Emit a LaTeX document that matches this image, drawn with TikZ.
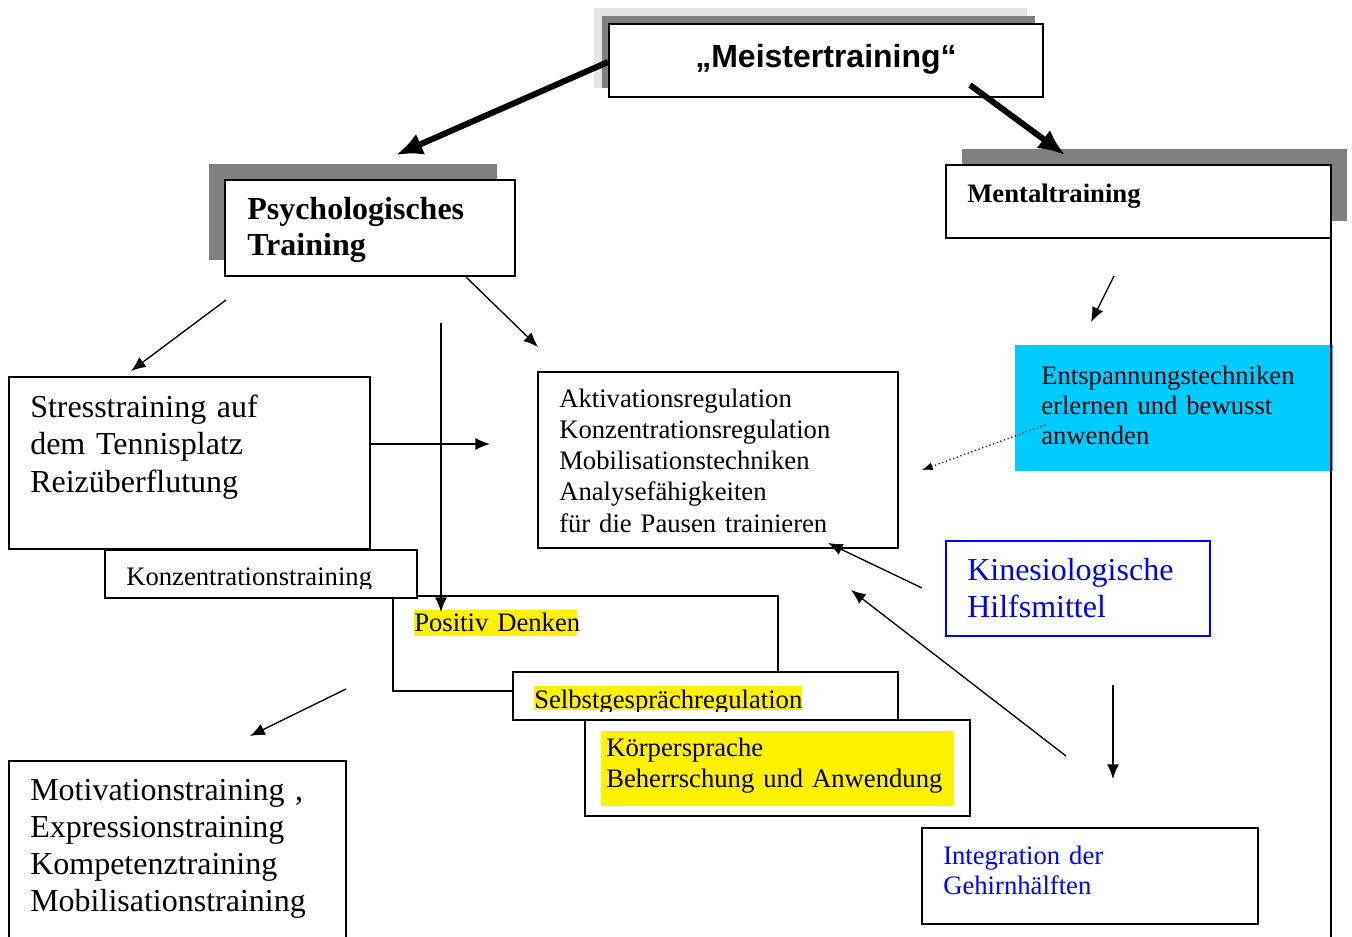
\documentclass[tikz,border=0pt]{standalone}
\usepackage{fontspec}
\setmainfont{Liberation Serif}
\newfontfamily\arialfont{Liberation Sans}
\usetikzlibrary{positioning,arrows.meta}
\definecolor{skyblue}{RGB}{0,204,255}

\begin{document}
\begin{tikzpicture}[x=0.75pt,y=-0.75pt,>={Latex[length=11pt,width=9pt]},
	box/.style 2 args={draw,fill=white,line width=1.3pt,anchor=north west,
		inner sep=0pt,outer sep=0pt,minimum width=#1*0.75pt,minimum height=#2*0.75pt},
	txt/.style={anchor=base west,inner sep=0pt,align=left,text width=330pt},
	big/.style={font=\fontsize{24}{27.75}\selectfont},
	mid/.style={font=\fontsize{20}{23.25}\selectfont},
	arr/.style={->,line width=1pt},
	bigarr/.style={-{Latex[length=20pt,width=17pt]},line width=4.5pt}]
	\useasboundingbox (0,0) rectangle (1352,937);

	% Meistertraining
	\fill[black!10] (594,8) rectangle (1027,88);
	\fill[black!50] (602,16) rectangle (1035,88);
	\node[box={434}{73},font=\arialfont\bfseries\fontsize{24}{28}\selectfont,
		  text height=17pt,text depth=7pt]
		  (meister) at (609,24) {„Meistertraining“};

	% Psychologisches Training
	\fill[black!50] (209,164) rectangle (497,260);
	\node[box={290}{96}] (psych) at (225,180) {};
	\node[txt,font=\bfseries\fontsize{24}{27}\selectfont]
		  (psychtxt) at (247,220) {Psychologisches\\Training};

	% Mentaltraining
	\fill[black!50] (962,149) rectangle (1347,221);
	\node[box={385}{73}] (mental) at (946,165) {};
	\node[txt,font=\bfseries\fontsize{20}{24}\selectfont]
		  (mentaltxt) at (967,203) {Mentaltraining};

	\node[fill=skyblue,anchor=north west,inner sep=0pt,
		  minimum width=318*0.75pt,minimum height=126*0.75pt] (entsp) at (1015,345) {};
	\node[txt,font=\fontsize{20}{22.5}\selectfont]
		  (entsptxt) at (1041,385) {Entspannungstechniken\\erlernen und bewusst\\anwenden};
	\coordinate (rightend) at (1331,945);
	\draw[line width=1.3pt] (mental.south east) -- (mental.south east |- rightend);

	% middle boxes
	\node[box={360}{176}] (aktiv) at (538,372) {};
	\node[txt,mid] (aktivtxt) at (559,408) {Aktivationsregulation\\Konzentrationsregulation\\Mobilisationstechniken\\Analysefähigkeiten\\für die Pausen trainieren};

	\node[box={361}{172}] (stress) at (9,377) {};
	\node[txt,big] (stresstxt) at (30,418) {Stresstraining auf\\dem Tennisplatz\\Reizüberflutung};

	\node[box={385}{95}] (positiv) at (393,596) {};
	\fill[yellow] (414,610) rectangle (577,636);
	\node[txt,mid] (positivtxt) at (414,631) {Positiv Denken};

	\node[box={312}{48}] (konz) at (105,550) {};
	\begin{scope}
		\clip (105,550) rectangle (417,588);
		\node[txt,mid] (konztxt) at (126,585) {Konzentrationstraining};
	\end{scope}

	\node[box={385}{48}] (selbst) at (513,672) {};
	\fill[yellow] (534,686) rectangle (802,710);
	\begin{scope}
		\clip (513,672) rectangle (898,711);
		\node[txt,mid] (selbsttxt) at (534,708) {Selbstgesprächregulation};
	\end{scope}

	\node[box={385}{96}] (koerper) at (585,720) {};
	\fill[yellow] (601,731) rectangle (954,806);
	\node[txt,mid] (koerpertxt) at (606,756) {Körpersprache\\Beherrschung und Anwendung};

	\node[box={264}{95},draw=blue] (kinesio) at (946,541) {};
	\node[txt,big,text=blue] (kinesiotxt) at (967,580) {Kinesiologische\\Hilfsmittel};

	\node[box={336}{96}] (integr) at (922,828) {};
	\node[txt,font=\fontsize{20}{22.5}\selectfont,text=blue]
		  (integrtxt) at (943,864) {Integration der\\Gehirnhälften};

	\node[box={337}{190}] (motiv) at (9,761) {};
	\node[txt,big] (motivtxt) at (30,800) {Motivationstraining ,\\Expressionstraining\\Kompetenztraining\\Mobilisationstraining};

	% arrows
	\coordinate (m1) at (608,62);   \coordinate (m2) at (396,155);
	\coordinate (m3) at (970,85);   \coordinate (m4) at (1065,155);
	\coordinate (p1) at (226,300);  \coordinate (p2) at (131,371);
	\coordinate (p3) at (466,277);  \coordinate (p4) at (538,347);
	\coordinate (p5) at (441,323);  \coordinate (p6) at (441,612);
	\coordinate (s1) at (370,444);  \coordinate (s2) at (490,444);
	\coordinate (k1) at (346,689);  \coordinate (k2) at (250,736);
	\coordinate (e1) at (1114,276); \coordinate (e2) at (1091,322);
	\coordinate (e3) at (1045,425); \coordinate (e4) at (922,470);
	\coordinate (h1) at (922,588);  \coordinate (h2) at (828,543);
	\coordinate (g1) at (1066,756); \coordinate (g2) at (851,590);
	\coordinate (g3) at (1113,685); \coordinate (g4) at (1113,779);

	\draw[bigarr] (m1) -- (m2);
	\draw[bigarr] (m3) -- (m4);
	\draw[arr] (p1) -- (p2);
	\draw[arr] (p3) -- (p4);
	\draw[arr] (p5) -- (p6);
	\draw[arr] (s1) -- (s2);
	\draw[arr] (k1) -- (k2);
	\draw[arr] (e1) -- (e2);
	\draw[dotted,line width=0.9pt,-{Latex[length=8pt,width=6pt]}] (e3) -- (e4);
	\draw[arr] (h1) -- (h2);
	\draw[arr] (g1) -- (g2);
	\draw[arr] (g3) -- (g4);
\end{tikzpicture}
\end{document}
